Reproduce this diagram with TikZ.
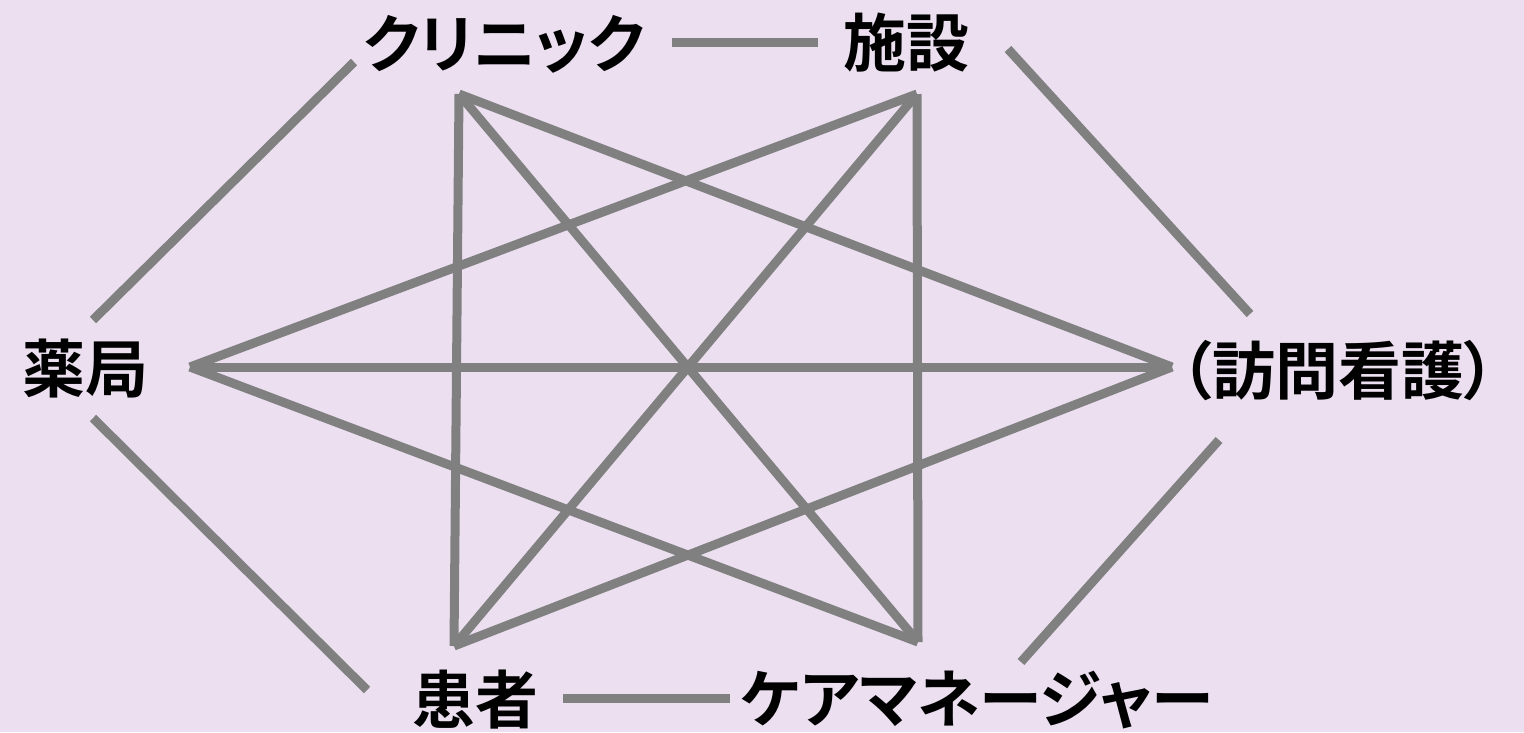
\documentclass[tikz,border=0pt]{standalone}
\usepackage{fontspec}
\newfontfamily\jp[RawFeature=+palt]{Noto Sans CJK JP Bold}
\definecolor{bg}{RGB}{235,223,240}
\definecolor{ln}{RGB}{128,128,128}
\begin{document}
\begin{tikzpicture}[x=1pt,y=-1pt,
  lbl/.style={inner sep=0pt,font=\jp\fontsize{63}{63}\selectfont,text=black},
  edge/.style={draw=ln,line width=9pt,line cap=butt,line join=miter}]
\fill[bg] (0,0) rectangle (1524,732);
\useasboundingbox (0,0) rectangle (1524,732);
% labels
\node[lbl] (cl) at (504,44) {クリニック};
\node[lbl] (fa) at (906,43) {施設};
\node[lbl] (ph) at (86,369) {薬局};
\node[lbl] (ho) at (1338,371) {（訪問看護）};
\node[lbl] (pa) at (475,700) {患者};
\node[lbl] (cm) at (977,700) {ケアマネージャー};
% outer link ends
\coordinate (a1) at (672,42);  \coordinate (a2) at (818,42);
\coordinate (b1) at (1008,49); \coordinate (b2) at (1250,314);
\coordinate (c1) at (1219,440); \coordinate (c2) at (1021,662);
\coordinate (d1) at (730,698); \coordinate (d2) at (563,698);
\coordinate (e1) at (367,690); \coordinate (e2) at (93,418);
\coordinate (f1) at (93,320); \coordinate (f2) at (354,62);
\draw[edge] (a1) -- (a2);
\draw[edge] (b1) -- (b2);
\draw[edge] (c1) -- (c2);
\draw[edge] (d1) -- (d2);
\draw[edge] (e1) -- (e2);
\draw[edge] (f1) -- (f2);
% inner vertices
\coordinate (vcl) at (459,94);
\coordinate (vfa) at (917,94);
\coordinate (vho) at (1172,367);
\coordinate (vcm) at (918,642);
\coordinate (vpa) at (454,646);
\coordinate (vph) at (190,367);
\draw[edge] (vcl) -- (vpa);
\draw[edge] (vcl) -- (vcm);
\draw[edge] (vcl) -- (vho);
\draw[edge] (vfa) -- (vcm);
\draw[edge] (vfa) -- (vpa);
\draw[edge] (vfa) -- (vph);
\draw[edge] (vph) -- (vho);
\draw[edge] (vph) -- (vcm);
\draw[edge] (vho) -- (vpa);
\end{tikzpicture}
\end{document}
